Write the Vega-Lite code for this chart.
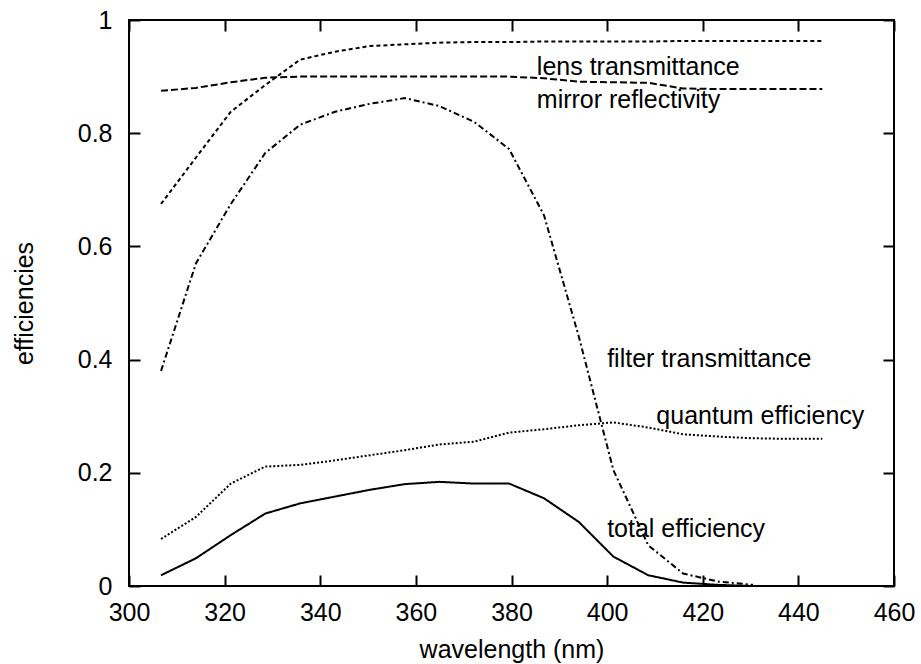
{
  "$schema": "https://vega.github.io/schema/vega-lite/v6.json",
  "width": 765,
  "height": 566,
  "autosize": "none",
  "padding": {"left": 129, "top": 20, "right": 27, "bottom": 78},
  "background": "white",
  "config": {
    "view": {"stroke": "black", "strokeWidth": 2},
    "font": "Liberation Sans",
    "axis": {
      "grid": false,
      "domain": false,
      "labelFlush": false,
      "labelOverlap": false,
      "tickColor": "black",
      "tickWidth": 2,
      "tickSize": -11,
      "labelColor": "black",
      "labelFont": "Liberation Sans",
      "labelFontSize": 25,
      "titleFont": "Liberation Sans",
      "titleFontSize": 25,
      "titleFontWeight": "normal",
      "titleColor": "black"
    }
  },
  "datasets": {
    "curves": [
      {"wl": 306.7, "series": "lens transmittance", "v": 0.675},
      {"wl": 314.0, "series": "lens transmittance", "v": 0.757},
      {"wl": 321.3, "series": "lens transmittance", "v": 0.838},
      {"wl": 328.5, "series": "lens transmittance", "v": 0.885},
      {"wl": 335.8, "series": "lens transmittance", "v": 0.930},
      {"wl": 343.1, "series": "lens transmittance", "v": 0.944},
      {"wl": 350.4, "series": "lens transmittance", "v": 0.954},
      {"wl": 357.7, "series": "lens transmittance", "v": 0.957},
      {"wl": 364.9, "series": "lens transmittance", "v": 0.960},
      {"wl": 372.2, "series": "lens transmittance", "v": 0.961},
      {"wl": 379.5, "series": "lens transmittance", "v": 0.961},
      {"wl": 386.8, "series": "lens transmittance", "v": 0.962},
      {"wl": 394.1, "series": "lens transmittance", "v": 0.962},
      {"wl": 401.3, "series": "lens transmittance", "v": 0.962},
      {"wl": 408.6, "series": "lens transmittance", "v": 0.962},
      {"wl": 415.9, "series": "lens transmittance", "v": 0.963},
      {"wl": 423.2, "series": "lens transmittance", "v": 0.963},
      {"wl": 430.5, "series": "lens transmittance", "v": 0.963},
      {"wl": 437.7, "series": "lens transmittance", "v": 0.963},
      {"wl": 445.0, "series": "lens transmittance", "v": 0.963},

      {"wl": 306.7, "series": "mirror reflectivity", "v": 0.875},
      {"wl": 314.0, "series": "mirror reflectivity", "v": 0.880},
      {"wl": 321.3, "series": "mirror reflectivity", "v": 0.890},
      {"wl": 328.5, "series": "mirror reflectivity", "v": 0.898},
      {"wl": 335.8, "series": "mirror reflectivity", "v": 0.900},
      {"wl": 343.1, "series": "mirror reflectivity", "v": 0.900},
      {"wl": 350.4, "series": "mirror reflectivity", "v": 0.900},
      {"wl": 357.7, "series": "mirror reflectivity", "v": 0.900},
      {"wl": 364.9, "series": "mirror reflectivity", "v": 0.900},
      {"wl": 372.2, "series": "mirror reflectivity", "v": 0.900},
      {"wl": 379.5, "series": "mirror reflectivity", "v": 0.900},
      {"wl": 386.8, "series": "mirror reflectivity", "v": 0.897},
      {"wl": 394.1, "series": "mirror reflectivity", "v": 0.891},
      {"wl": 401.3, "series": "mirror reflectivity", "v": 0.890},
      {"wl": 408.6, "series": "mirror reflectivity", "v": 0.889},
      {"wl": 415.9, "series": "mirror reflectivity", "v": 0.879},
      {"wl": 423.2, "series": "mirror reflectivity", "v": 0.878},
      {"wl": 430.5, "series": "mirror reflectivity", "v": 0.878},
      {"wl": 437.7, "series": "mirror reflectivity", "v": 0.878},
      {"wl": 445.0, "series": "mirror reflectivity", "v": 0.878},

      {"wl": 306.7, "series": "filter transmittance", "v": 0.380},
      {"wl": 314.0, "series": "filter transmittance", "v": 0.570},
      {"wl": 321.3, "series": "filter transmittance", "v": 0.675},
      {"wl": 328.5, "series": "filter transmittance", "v": 0.765},
      {"wl": 335.8, "series": "filter transmittance", "v": 0.815},
      {"wl": 343.1, "series": "filter transmittance", "v": 0.838},
      {"wl": 350.4, "series": "filter transmittance", "v": 0.852},
      {"wl": 357.7, "series": "filter transmittance", "v": 0.862},
      {"wl": 364.9, "series": "filter transmittance", "v": 0.848},
      {"wl": 372.2, "series": "filter transmittance", "v": 0.820},
      {"wl": 379.5, "series": "filter transmittance", "v": 0.772},
      {"wl": 386.8, "series": "filter transmittance", "v": 0.655},
      {"wl": 394.1, "series": "filter transmittance", "v": 0.440},
      {"wl": 401.3, "series": "filter transmittance", "v": 0.205},
      {"wl": 408.6, "series": "filter transmittance", "v": 0.072},
      {"wl": 415.9, "series": "filter transmittance", "v": 0.022},
      {"wl": 423.2, "series": "filter transmittance", "v": 0.008},
      {"wl": 430.5, "series": "filter transmittance", "v": 0.002},

      {"wl": 306.7, "series": "quantum efficiency", "v": 0.083},
      {"wl": 314.0, "series": "quantum efficiency", "v": 0.122},
      {"wl": 321.3, "series": "quantum efficiency", "v": 0.181},
      {"wl": 328.5, "series": "quantum efficiency", "v": 0.211},
      {"wl": 335.8, "series": "quantum efficiency", "v": 0.214},
      {"wl": 343.1, "series": "quantum efficiency", "v": 0.222},
      {"wl": 350.4, "series": "quantum efficiency", "v": 0.231},
      {"wl": 357.7, "series": "quantum efficiency", "v": 0.240},
      {"wl": 364.9, "series": "quantum efficiency", "v": 0.250},
      {"wl": 372.2, "series": "quantum efficiency", "v": 0.255},
      {"wl": 379.5, "series": "quantum efficiency", "v": 0.271},
      {"wl": 386.8, "series": "quantum efficiency", "v": 0.277},
      {"wl": 394.1, "series": "quantum efficiency", "v": 0.284},
      {"wl": 401.3, "series": "quantum efficiency", "v": 0.289},
      {"wl": 408.6, "series": "quantum efficiency", "v": 0.280},
      {"wl": 415.9, "series": "quantum efficiency", "v": 0.268},
      {"wl": 423.2, "series": "quantum efficiency", "v": 0.264},
      {"wl": 430.5, "series": "quantum efficiency", "v": 0.261},
      {"wl": 437.7, "series": "quantum efficiency", "v": 0.260},
      {"wl": 445.0, "series": "quantum efficiency", "v": 0.260},

      {"wl": 306.7, "series": "total efficiency", "v": 0.019},
      {"wl": 314.0, "series": "total efficiency", "v": 0.049},
      {"wl": 321.3, "series": "total efficiency", "v": 0.090},
      {"wl": 328.5, "series": "total efficiency", "v": 0.128},
      {"wl": 335.8, "series": "total efficiency", "v": 0.146},
      {"wl": 343.1, "series": "total efficiency", "v": 0.158},
      {"wl": 350.4, "series": "total efficiency", "v": 0.170},
      {"wl": 357.7, "series": "total efficiency", "v": 0.180},
      {"wl": 364.9, "series": "total efficiency", "v": 0.184},
      {"wl": 372.2, "series": "total efficiency", "v": 0.181},
      {"wl": 379.5, "series": "total efficiency", "v": 0.181},
      {"wl": 386.8, "series": "total efficiency", "v": 0.155},
      {"wl": 394.1, "series": "total efficiency", "v": 0.113},
      {"wl": 401.3, "series": "total efficiency", "v": 0.052},
      {"wl": 408.6, "series": "total efficiency", "v": 0.019},
      {"wl": 415.9, "series": "total efficiency", "v": 0.006},
      {"wl": 423.2, "series": "total efficiency", "v": 0.002},
      {"wl": 430.5, "series": "total efficiency", "v": 0.000}
    ],
    "labels": [
      {"text": "lens transmittance", "wl": 385.3, "v": 0.917},
      {"text": "mirror reflectivity", "wl": 385.3, "v": 0.859},
      {"text": "filter transmittance", "wl": 400.0, "v": 0.401},
      {"text": "quantum efficiency", "wl": 410.3, "v": 0.300},
      {"text": "total efficiency", "wl": 400.0, "v": 0.100}
    ]
  },
  "layer": [
    {
      "data": {"name": "curves"},
      "mark": {"type": "line", "strokeWidth": 2, "color": "black", "clip": true},
      "encoding": {
        "x": {
          "field": "wl", "type": "quantitative",
          "scale": {"domain": [300, 460], "nice": false, "zero": false, "padding": 0},
          "axis": {
            "orient": "bottom",
            "values": [300, 320, 340, 360, 380, 400, 420, 440, 460],
            "labelPadding": 25,
            "title": "wavelength (nm)",
            "titlePadding": 12
          }
        },
        "y": {
          "field": "v", "type": "quantitative",
          "scale": {"domain": [0, 1], "nice": false, "zero": false, "padding": 0},
          "axis": {
            "orient": "left",
            "values": [0, 0.2, 0.4, 0.6, 0.8, 1],
            "format": "~g",
            "labelPadding": 28,
            "title": "efficiencies",
            "titlePadding": 40
          }
        },
        "strokeDash": {
          "field": "series", "type": "nominal",
          "scale": {
            "domain": ["lens transmittance", "mirror reflectivity", "filter transmittance", "quantum efficiency", "total efficiency"],
            "range": [[4, 3], [7, 3], [6, 3, 2, 3], [2, 2], [1, 0]]
          },
          "legend": null
        }
      }
    },
    {
      "data": {"name": "labels"},
      "mark": {"type": "text", "align": "left", "baseline": "middle", "font": "Liberation Sans", "fontSize": 25, "color": "black"},
      "encoding": {
        "x": {"field": "wl", "type": "quantitative", "scale": {"domain": [300, 460], "nice": false, "zero": false, "padding": 0}, "axis": null},
        "y": {"field": "v", "type": "quantitative", "scale": {"domain": [0, 1], "nice": false, "zero": false, "padding": 0}, "axis": null},
        "text": {"field": "text"}
      }
    },
    {
      "data": {"name": "labels"},
      "mark": {"type": "text", "opacity": 0},
      "encoding": {
        "x": {
          "field": "wl", "type": "quantitative",
          "scale": {"domain": [300, 460], "nice": false, "zero": false, "padding": 0},
          "axis": {"orient": "top", "values": [300, 320, 340, 360, 380, 400, 420, 440, 460], "labels": false, "title": null}
        },
        "y": {
          "field": "v", "type": "quantitative",
          "scale": {"domain": [0, 1], "nice": false, "zero": false, "padding": 0},
          "axis": {"orient": "right", "values": [0, 0.2, 0.4, 0.6, 0.8, 1], "labels": false, "title": null}
        },
        "text": {"field": "text"}
      }
    }
  ],
  "resolve": {"axis": {"x": "independent", "y": "independent"}}
}
